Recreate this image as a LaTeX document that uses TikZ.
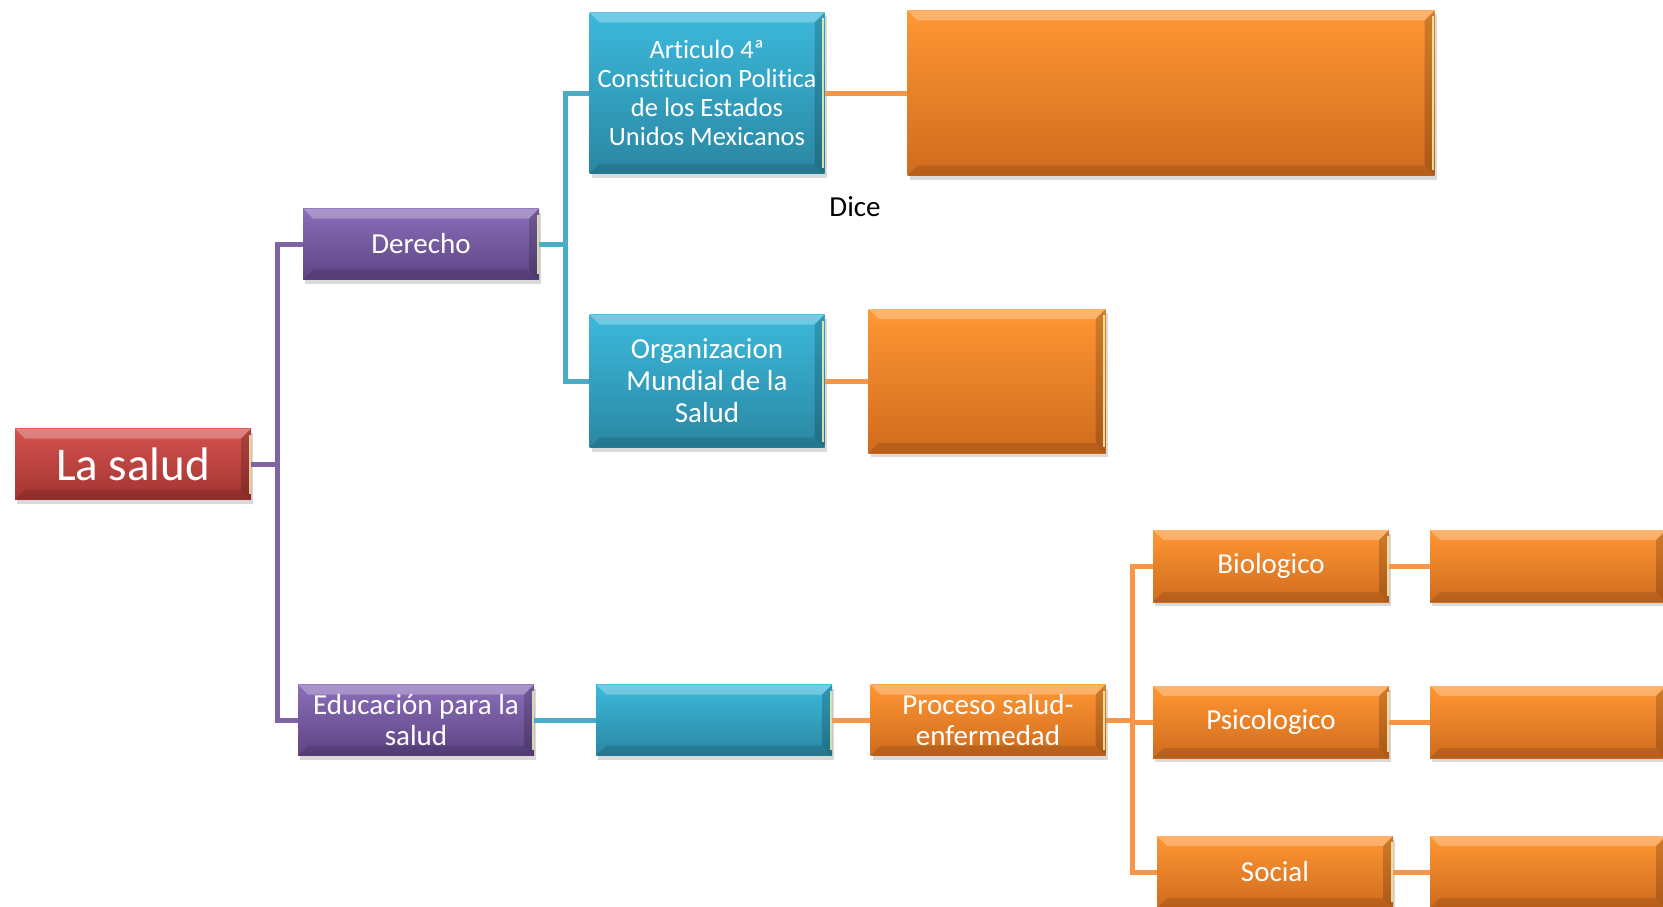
\documentclass[tikz,border=0pt]{standalone}
\usepackage{fontspec}
\setmainfont{Carlito}[Ligatures=NoCommon]
\usetikzlibrary{shadows}

\definecolor{redT}{HTML}{D4524F}
\definecolor{redB}{HTML}{A33431}
\definecolor{purT}{HTML}{8B6EB9}
\definecolor{purB}{HTML}{5E4484}
\definecolor{tealT}{HTML}{3CB9DC}
\definecolor{tealB}{HTML}{2A87A2}
\definecolor{oraT}{HTML}{FF9733}
\definecolor{oraB}{HTML}{D06B1E}
\definecolor{purL}{HTML}{8064A2}
\definecolor{tealL}{HTML}{4BACC6}
\definecolor{oraL}{HTML}{F79646}

\begin{document}
\begin{tikzpicture}[x=1pt,y=-1pt,
   every node/.style={font=\fontsize{29}{31}\selectfont},
   box/.style={text=white,align=center,inner sep=2pt,minimum width=236pt,minimum height=71pt,
      drop shadow={opacity=.3,shadow xshift=2pt,shadow yshift=-4pt},
      path picture={
        \fill[white,opacity=.28] (path picture bounding box.north west) -- (path picture bounding box.north east)
           -- ([shift={(-10pt,-10pt)}]path picture bounding box.north east) -- ([shift={(10pt,-10pt)}]path picture bounding box.north west) -- cycle;
        \fill[black,opacity=.12] (path picture bounding box.south west) -- (path picture bounding box.south east)
           -- ([shift={(-10pt,10pt)}]path picture bounding box.south east) -- ([shift={(10pt,10pt)}]path picture bounding box.south west) -- cycle;
        \fill[black,opacity=.18] (path picture bounding box.north east) -- (path picture bounding box.south east)
           -- ([shift={(-10pt,10pt)}]path picture bounding box.south east) -- ([shift={(-10pt,-10pt)}]path picture bounding box.north east) -- cycle;
        \draw[yellow!30,opacity=.8,line width=2pt] ([shift={(-1.5pt,-6pt)}]path picture bounding box.north east) -- ([shift={(-1.5pt,6pt)}]path picture bounding box.south east);
      }},
   rbox/.style={box,top color=redT,bottom color=redB},
   pbox/.style={box,top color=purT,bottom color=purB},
   tbox/.style={box,top color=tealT,bottom color=tealB},
   obox/.style={box,top color=oraT,bottom color=oraB},
   link/.style={line width=5pt,#1}]
\useasboundingbox (0,0) rectangle (1663,907);

\node[rbox,font=\fontsize{47}{50}\selectfont] (S) at (133,464) {La salud};
\node[pbox] (D) at (421,244) {Derecho};
\node[pbox] (E) at (416,720) {Educación para la\\salud};

\node[tbox,minimum width=235pt,minimum height=161pt,font=\fontsize{26.5}{29}\selectfont] (A) at (707,93)
   {Art\kern0pt iculo 4ª\\Const\kern0pt itucion Polit\kern0pt ica\\de los Estados\\Unidos Mexicanos};
\node[obox,minimum width=527pt,minimum height=165pt] (AR) at (1171,93) {};
\node (dice) at (855,207) {Dice};
\node[tbox,minimum width=235pt,minimum height=133pt,font=\fontsize{29}{32}\selectfont] (O) at (707,381)
   {Organizacion\\Mundial de la\\Salud};
\node[obox,minimum width=237pt,minimum height=144pt] (OR) at (987,381) {};

\node[tbox] (T) at (714,720) {};
\node[obox,minimum width=235pt] (P) at (988,720) {Proceso salud-\\enfermedad};

\node[obox,minimum height=72pt] (B) at (1271,566) {Biologico};
\node[obox,minimum height=72pt] (PS) at (1271,722) {Psicologico};
\node[obox,minimum height=72pt] (SO) at (1275,872) {Social};
\node[obox,minimum height=72pt] (BR) at (1548,566) {};
\node[obox,minimum height=72pt] (PSR) at (1548,722) {};
\node[obox,minimum height=72pt] (SOR) at (1548,872) {};

\draw[link=purL] (S.east) -- ++(26,0) |- (D.west);
\draw[link=purL] (S.east) -- ++(26,0) |- (E.west);
\draw[link=tealL] (D.east) -- ++(26,0) |- (A.west);
\draw[link=tealL] (D.east) -- ++(26,0) |- (O.west);
\draw[link=oraL] (A.east) -- (AR.west);
\draw[link=oraL] (O.east) -- (OR.west);
\draw[link=tealL] (E.east) -- (T.west);
\draw[link=oraL] (T.east) -- (P.west);
\draw[link=oraL] (P.east) -- ++(27,0) |- (B.west);
\draw[link=oraL] (P.east) -- ++(27,0) |- (PS.west);
\draw[link=oraL] (P.east) -- ++(27,0) |- (SO.west);
\draw[link=oraL] (B.east) -- (BR.west);
\draw[link=oraL] (PS.east) -- (PSR.west);
\draw[link=oraL] (SO.east) -- (SOR.west);
\end{tikzpicture}
\end{document}
